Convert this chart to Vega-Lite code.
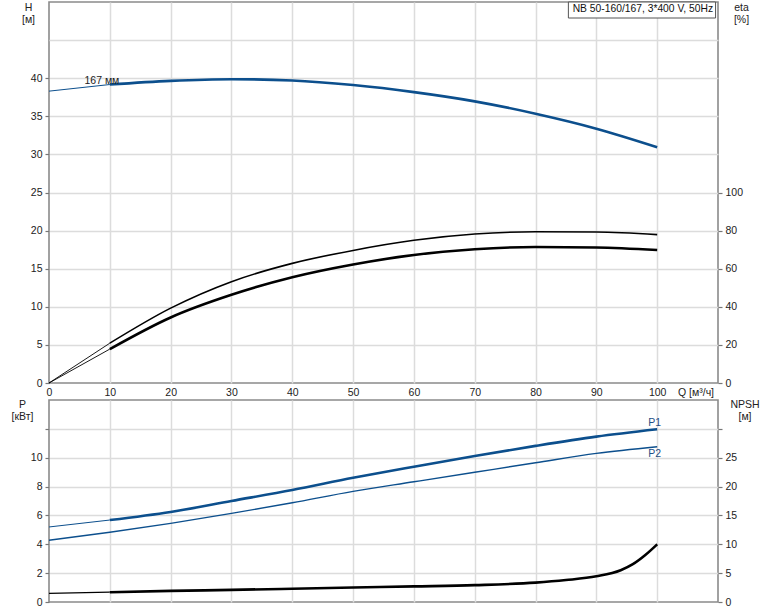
{
  "$schema": "https://vega.github.io/schema/vega-lite/v6.json",
  "background": "white",
  "padding": {"left": 10, "top": 0, "right": 5, "bottom": 0},
  "bounds": "flush",
  "spacing": 17,
  "config": {
    "font": "Liberation Sans",
    "view": {"stroke": "#8a8a8a", "strokeWidth": 1.6},
    "axis": {
      "domain": false,
      "gridColor": "#dcdcdc",
      "gridWidth": 1.5,
      "labelFont": "Liberation Sans",
      "labelFontSize": 10.5,
      "labelColor": "#222222",
      "labelOverlap": false,
      "labelBound": false,
      "tickColor": "#777777",
      "tickWidth": 1.2,
      "titleFont": "Liberation Sans",
      "titleFontSize": 10.5,
      "titleFontWeight": "normal",
      "titleColor": "#222222"
    }
  },
  "data": {
    "values": [
      {"s": "H", "Q": 0, "v": 38.3}, {"s": "H", "Q": 10, "v": 39.17}, {"s": "H", "Q": 20, "v": 39.65},
      {"s": "H", "Q": 30, "v": 39.87}, {"s": "H", "Q": 40, "v": 39.7}, {"s": "H", "Q": 50, "v": 39.1},
      {"s": "H", "Q": 60, "v": 38.17}, {"s": "H", "Q": 70, "v": 36.96}, {"s": "H", "Q": 80, "v": 35.34},
      {"s": "H", "Q": 90, "v": 33.38}, {"s": "H", "Q": 100, "v": 30.95},
      {"s": "e1", "Q": 0, "v": 0}, {"s": "e1", "Q": 10, "v": 20.9}, {"s": "e1", "Q": 20, "v": 39.3},
      {"s": "e1", "Q": 30, "v": 53.2}, {"s": "e1", "Q": 40, "v": 62.8}, {"s": "e1", "Q": 50, "v": 69.6},
      {"s": "e1", "Q": 60, "v": 74.9}, {"s": "e1", "Q": 70, "v": 78.2}, {"s": "e1", "Q": 80, "v": 79.4},
      {"s": "e1", "Q": 90, "v": 79.3}, {"s": "e1", "Q": 100, "v": 77.9},
      {"s": "e2", "Q": 0, "v": 0}, {"s": "e2", "Q": 10, "v": 17.8}, {"s": "e2", "Q": 20, "v": 34.4},
      {"s": "e2", "Q": 30, "v": 46.3}, {"s": "e2", "Q": 40, "v": 55.5}, {"s": "e2", "Q": 50, "v": 62.2},
      {"s": "e2", "Q": 60, "v": 67.2}, {"s": "e2", "Q": 70, "v": 70.2}, {"s": "e2", "Q": 80, "v": 71.4},
      {"s": "e2", "Q": 90, "v": 71.1}, {"s": "e2", "Q": 100, "v": 69.8},
      {"s": "P1", "Q": 0, "v": 5.2}, {"s": "P1", "Q": 10, "v": 5.68}, {"s": "P1", "Q": 20, "v": 6.24},
      {"s": "P1", "Q": 30, "v": 7.0}, {"s": "P1", "Q": 40, "v": 7.76}, {"s": "P1", "Q": 50, "v": 8.61},
      {"s": "P1", "Q": 60, "v": 9.38}, {"s": "P1", "Q": 70, "v": 10.12}, {"s": "P1", "Q": 80, "v": 10.82},
      {"s": "P1", "Q": 90, "v": 11.46}, {"s": "P1", "Q": 100, "v": 11.97},
      {"s": "P2", "Q": 0, "v": 4.28}, {"s": "P2", "Q": 10, "v": 4.83}, {"s": "P2", "Q": 20, "v": 5.45},
      {"s": "P2", "Q": 30, "v": 6.14}, {"s": "P2", "Q": 40, "v": 6.88}, {"s": "P2", "Q": 50, "v": 7.67},
      {"s": "P2", "Q": 60, "v": 8.33}, {"s": "P2", "Q": 70, "v": 8.99}, {"s": "P2", "Q": 80, "v": 9.65},
      {"s": "P2", "Q": 90, "v": 10.3}, {"s": "P2", "Q": 100, "v": 10.76},
      {"s": "N", "Q": 0, "v": 1.5}, {"s": "N", "Q": 10, "v": 1.7}, {"s": "N", "Q": 20, "v": 1.92},
      {"s": "N", "Q": 30, "v": 2.1}, {"s": "N", "Q": 40, "v": 2.3}, {"s": "N", "Q": 50, "v": 2.5},
      {"s": "N", "Q": 60, "v": 2.7}, {"s": "N", "Q": 70, "v": 2.92}, {"s": "N", "Q": 80, "v": 3.35},
      {"s": "N", "Q": 85, "v": 3.8}, {"s": "N", "Q": 90, "v": 4.45}, {"s": "N", "Q": 94, "v": 5.5},
      {"s": "N", "Q": 96, "v": 6.55}, {"s": "N", "Q": 98, "v": 8.1}, {"s": "N", "Q": 100, "v": 10.0},
      {"s": "labH", "Q": 5.83, "v": 39.23, "text": "167 мм"},
      {"s": "box", "Q": 85.4, "Q2": 109.6, "v": 50, "v2": 47.9},
      {"s": "info", "Q": 97.65, "v": 49.05, "text": "NB 50-160/167, 3*400 V, 50Hz"},
      {"s": "labP", "Q": 99.6, "v": 12.2, "text": "P1"},
      {"s": "labP", "Q": 99.6, "v": 10.03, "text": "P2"}
    ]
  },
  "vconcat": [
    {
      "width": 669,
      "height": 381,
      "encoding": {
        "x": {
          "field": "Q", "type": "quantitative",
          "scale": {"domain": [0, 110], "nice": false, "zero": false},
          "axis": {
            "values": [0, 10, 20, 30, 40, 50, 60, 70, 80, 90, 100],
            "ticks": false,
            "labelPadding": 4,
            "labelFlush": false,
            "gridOpacity": {"condition": {"test": "datum.value == 0", "value": 0}, "value": 1},
            "title": "Q [м³/ч]",
            "titleAlign": "left",
            "titleBaseline": "top",
            "titleX": 628.5,
            "titleY": 4
          }
        }
      },
      "layer": [
        {
          "encoding": {
            "y": {
              "field": "v", "type": "quantitative",
              "scale": {"domain": [0, 50], "nice": false},
              "axis": {
                "orient": "left",
                "values": [0, 5, 10, 15, 20, 25, 30, 35, 40, 45],
                "labelExpr": "datum.value > 40 ? '' : datum.label",
                "tickSize": 4,
                "labelPadding": 3,
                "tickOpacity": {"condition": {"test": "datum.value > 40", "value": 0}, "value": 1},
                "gridOpacity": {"condition": {"test": "datum.value == 0", "value": 0}, "value": 1},
                "title": ["H", "[м]"],
                "titleAngle": 0,
                "titleAlign": "center",
                "titleBaseline": "top",
                "titleX": -21,
                "titleY": 0,
                "titleLineHeight": 12
              }
            }
          },
          "layer": [
            {
              "transform": [{"filter": "datum.s == 'H' && datum.Q <= 10"}],
              "mark": {"type": "line", "color": "#0c4f8d", "strokeWidth": 1, "interpolate": "monotone"}
            },
            {
              "transform": [{"filter": "datum.s == 'H' && datum.Q >= 10"}],
              "mark": {"type": "line", "color": "#0c4f8d", "strokeWidth": 2.6, "interpolate": "monotone"}
            },
            {
              "transform": [{"filter": "datum.s == 'box'"}],
              "mark": {"type": "rect", "fill": "#ffffff", "stroke": "#555555", "strokeWidth": 1},
              "encoding": {"x2": {"field": "Q2"}, "y2": {"field": "v2"}}
            },
            {
              "transform": [{"filter": "datum.s == 'info'"}],
              "mark": {"type": "text", "align": "center", "baseline": "middle", "fontSize": 10.3, "color": "#111111"},
              "encoding": {"text": {"field": "text"}}
            },
            {
              "transform": [{"filter": "datum.s == 'labH'"}],
              "mark": {"type": "text", "align": "left", "baseline": "alphabetic", "fontSize": 10.5, "color": "#222222"},
              "encoding": {"text": {"field": "text"}}
            }
          ]
        },
        {
          "encoding": {
            "y": {
              "field": "v", "type": "quantitative",
              "scale": {"domain": [0, 200], "nice": false},
              "axis": {
                "orient": "right",
                "values": [0, 20, 40, 60, 80, 100],
                "grid": false,
                "tickSize": 4,
                "labelPadding": 3,
                "title": ["eta", "[%]"],
                "titleAngle": 0,
                "titleAlign": "center",
                "titleBaseline": "top",
                "titleX": 23,
                "titleY": 0,
                "titleLineHeight": 12
              }
            }
          },
          "layer": [
            {
              "transform": [{"filter": "datum.s == 'e1' && datum.Q <= 10"}],
              "mark": {"type": "line", "color": "#000000", "strokeWidth": 0.9, "interpolate": "monotone"}
            },
            {
              "transform": [{"filter": "datum.s == 'e1' && datum.Q >= 10"}],
              "mark": {"type": "line", "color": "#000000", "strokeWidth": 1.6, "interpolate": "monotone"}
            },
            {
              "transform": [{"filter": "datum.s == 'e2' && datum.Q <= 10"}],
              "mark": {"type": "line", "color": "#000000", "strokeWidth": 0.9, "interpolate": "monotone"}
            },
            {
              "transform": [{"filter": "datum.s == 'e2' && datum.Q >= 10"}],
              "mark": {"type": "line", "color": "#000000", "strokeWidth": 2.6, "interpolate": "monotone"}
            }
          ]
        }
      ],
      "resolve": {"scale": {"y": "independent"}}
    },
    {
      "width": 669,
      "height": 202,
      "encoding": {
        "x": {
          "field": "Q", "type": "quantitative",
          "scale": {"domain": [0, 110], "nice": false, "zero": false},
          "axis": {
            "values": [10, 20, 30, 40, 50, 60, 70, 80, 90, 100],
            "ticks": false,
            "labels": false,
            "title": null
          }
        }
      },
      "layer": [
        {
          "encoding": {
            "y": {
              "field": "v", "type": "quantitative",
              "scale": {"domain": [0, 14], "nice": false},
              "axis": {
                "orient": "left",
                "values": [0, 2, 4, 6, 8, 10, 12],
                "labelExpr": "datum.value > 10 ? '' : datum.label",
                "tickSize": 4,
                "labelPadding": 3,
                "gridOpacity": {"condition": {"test": "datum.value == 0", "value": 0}, "value": 1},
                "title": ["P", "[кВт]"],
                "titleAngle": 0,
                "titleAlign": "center",
                "titleBaseline": "top",
                "titleX": -27,
                "titleY": -1,
                "titleLineHeight": 12
              }
            }
          },
          "layer": [
            {
              "transform": [{"filter": "datum.s == 'P1' && datum.Q <= 10"}],
              "mark": {"type": "line", "color": "#0c4f8d", "strokeWidth": 1, "interpolate": "monotone"}
            },
            {
              "transform": [{"filter": "datum.s == 'P1' && datum.Q >= 10"}],
              "mark": {"type": "line", "color": "#0c4f8d", "strokeWidth": 2.6, "interpolate": "monotone"}
            },
            {
              "transform": [{"filter": "datum.s == 'P2'"}],
              "mark": {"type": "line", "color": "#0c4f8d", "strokeWidth": 1.4, "interpolate": "monotone"}
            },
            {
              "transform": [{"filter": "datum.s == 'labP'"}],
              "mark": {"type": "text", "align": "center", "baseline": "alphabetic", "fontSize": 10.5, "color": "#1f4f85"},
              "encoding": {"text": {"field": "text"}}
            }
          ]
        },
        {
          "encoding": {
            "y": {
              "field": "v", "type": "quantitative",
              "scale": {"domain": [0, 35], "nice": false},
              "axis": {
                "orient": "right",
                "values": [0, 5, 10, 15, 20, 25, 30],
                "labelExpr": "datum.value > 25 ? '' : datum.label",
                "grid": false,
                "tickSize": 4,
                "labelPadding": 3,
                "title": ["NPSH", "[м]"],
                "titleAngle": 0,
                "titleAlign": "center",
                "titleBaseline": "top",
                "titleX": 26.5,
                "titleY": -1,
                "titleLineHeight": 12
              }
            }
          },
          "layer": [
            {
              "transform": [{"filter": "datum.s == 'N' && datum.Q <= 10"}],
              "mark": {"type": "line", "color": "#000000", "strokeWidth": 1.2, "interpolate": "monotone"}
            },
            {
              "transform": [{"filter": "datum.s == 'N' && datum.Q >= 10"}],
              "mark": {"type": "line", "color": "#000000", "strokeWidth": 2.6, "interpolate": "monotone"}
            }
          ]
        }
      ],
      "resolve": {"scale": {"y": "independent"}}
    }
  ]
}
